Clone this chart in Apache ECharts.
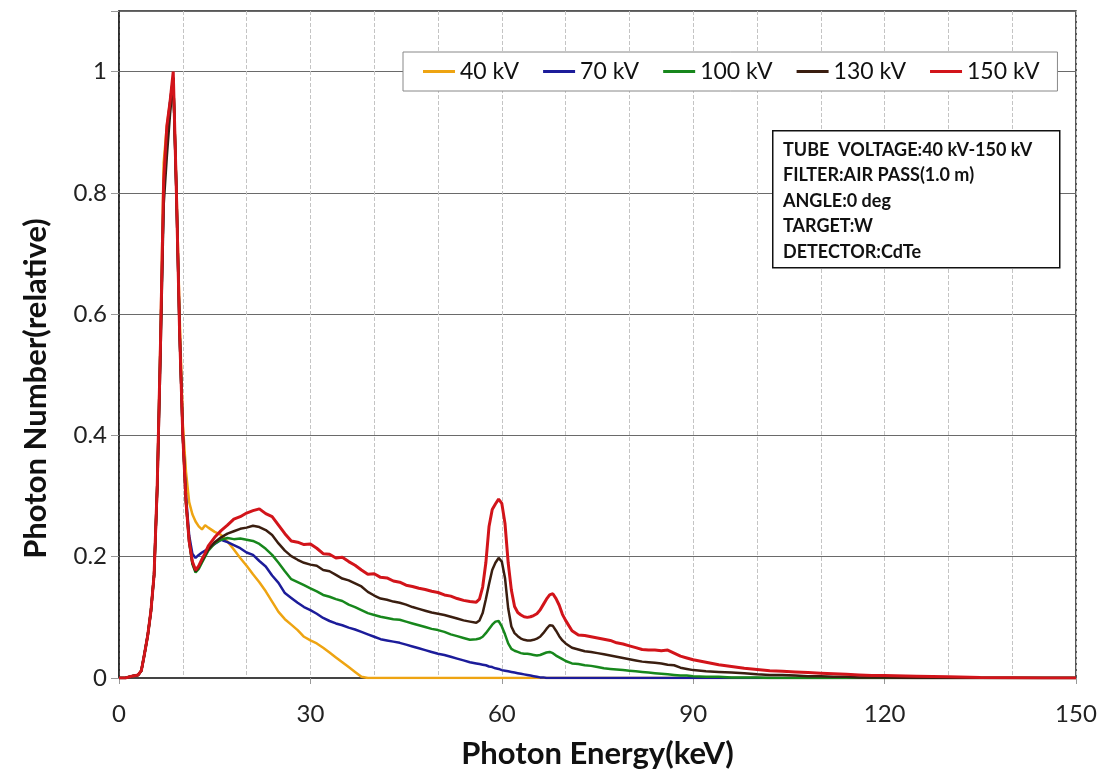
<!DOCTYPE html>
<html>
<head>
<meta charset="utf-8">
<title>Photon spectra</title>
<script src="https://cdn.jsdelivr.net/npm/echarts@6/dist/echarts.min.js"></script>
<style>
  html, body { margin: 0; padding: 0; background: #fff; }
  #chart { width: 1108px; height: 778px; }
</style>
</head>
<body>
<div id="chart"></div>
<script>
// photon energy grid (keV)
const energy = [
  0, 1, 2, 3,
  3.5, 4, 4.5, 5, 5.5, 6, 6.5, 7, 7.5, 8, 8.5, 9, 9.5, 10, 10.5, 11, 11.5, 12, 12.5, 13, 13.5,
  14, 15, 16, 17, 18, 19, 20, 21, 22, 23, 24, 25, 26, 27, 28, 29, 30, 31, 32, 33, 34, 35,
  36, 37, 38, 39, 40, 41, 42, 43, 44, 45, 46, 47, 48, 49, 50, 51, 52, 53, 54, 55, 56,
  56.5, 57, 57.5, 58, 58.5, 59, 59.5, 60, 60.5, 61, 61.5, 62, 62.5, 63, 63.5, 64, 64.5, 65,
  65.5, 66, 66.5, 67, 67.5, 68, 68.5, 69, 69.5, 70,
  71, 72, 73, 74, 75, 76, 77, 78, 79, 80, 81, 82, 83, 84, 85, 86, 87, 88, 89, 90,
  92, 94, 96, 98, 100, 102, 104, 106, 108, 110, 112, 114, 116, 118, 120,
  125, 130, 135, 140, 145, 150
]

const seriesNames = ['40 kV', '70 kV', '100 kV', '130 kV', '150 kV']
const seriesColors = ['#eea412', '#1c1c9a', '#17871c', '#3a1e10', '#d2141a']

const kv40 = [
  0, 0, 0.003, 0.005,
  0.012, 0.04, 0.07, 0.11, 0.17, 0.32, 0.56, 0.85, 0.91, 0.95, 0.99, 0.81, 0.6, 0.42, 0.34, 0.29, 0.27, 0.258, 0.25, 0.245, 0.252,
  0.248, 0.241, 0.236, 0.225, 0.212, 0.198, 0.185, 0.171, 0.158, 0.143, 0.126, 0.109, 0.097, 0.088, 0.079, 0.068, 0.062, 0.057, 0.050, 0.042, 0.034, 0.026,
  0.018, 0.010, 0.002, 0, 0, 0, 0, 0, 0, 0, 0, 0, 0, 0, 0, 0, 0, 0, 0, 0, 0,
  0, 0, 0, 0, 0, 0, 0, 0, 0, 0, 0, 0, 0, 0, 0, 0, 0, 0,
  0, 0, 0, 0, 0, 0, 0, 0, 0, 0,
  0, 0, 0, 0, 0, 0, 0, 0, 0, 0, 0, 0, 0, 0, 0, 0, 0, 0, 0, 0,
  0, 0, 0, 0, 0, 0, 0, 0, 0, 0, 0, 0, 0, 0, 0,
  0, 0, 0, 0, 0, 0
]

const kv70 = [
  0, 0, 0.003, 0.005,
  0.012, 0.04, 0.07, 0.11, 0.17, 0.32, 0.55, 0.8, 0.9, 0.95, 0.99, 0.8, 0.57, 0.4, 0.3, 0.235, 0.205, 0.198, 0.203, 0.207, 0.21,
  0.214, 0.221, 0.228, 0.224, 0.219, 0.214, 0.207, 0.203, 0.193, 0.184, 0.169, 0.157, 0.140, 0.132, 0.124, 0.117, 0.112, 0.106, 0.099, 0.094, 0.090, 0.087,
  0.083, 0.080, 0.076, 0.072, 0.068, 0.064, 0.062, 0.060, 0.058, 0.055, 0.052, 0.049, 0.046, 0.043, 0.040, 0.038, 0.035, 0.032, 0.029, 0.026, 0.024,
  0.023, 0.022, 0.021, 0.019, 0.018, 0.016, 0.015, 0.013, 0.012, 0.011, 0.010, 0.009, 0.008, 0.007, 0.006, 0.005, 0.004, 0.003,
  0.002, 0.001, 0.001, 0, 0, 0, 0, 0, 0, 0,
  0, 0, 0, 0, 0, 0, 0, 0, 0, 0, 0, 0, 0, 0, 0, 0, 0, 0, 0, 0,
  0, 0, 0, 0, 0, 0, 0, 0, 0, 0, 0, 0, 0, 0, 0,
  0, 0, 0, 0, 0, 0
]

const kv100 = [
  0, 0, 0.003, 0.005,
  0.012, 0.04, 0.07, 0.11, 0.17, 0.32, 0.55, 0.8, 0.89, 0.94, 0.99, 0.8, 0.57, 0.4, 0.29, 0.225, 0.188, 0.174, 0.18, 0.19, 0.2,
  0.210, 0.222, 0.228, 0.231, 0.229, 0.230, 0.228, 0.226, 0.221, 0.213, 0.203, 0.190, 0.176, 0.163, 0.158, 0.153, 0.148, 0.143, 0.137, 0.134, 0.130, 0.127,
  0.121, 0.117, 0.112, 0.107, 0.104, 0.101, 0.099, 0.097, 0.096, 0.093, 0.090, 0.087, 0.084, 0.081, 0.079, 0.076, 0.072, 0.069, 0.066, 0.063, 0.064,
  0.065, 0.068, 0.074, 0.081, 0.088, 0.093, 0.094, 0.085, 0.072, 0.057, 0.048, 0.045, 0.043, 0.041, 0.040, 0.040, 0.039, 0.038,
  0.037, 0.038, 0.040, 0.042, 0.043, 0.041, 0.037, 0.034, 0.031, 0.028,
  0.024, 0.023, 0.021, 0.020, 0.018, 0.016, 0.015, 0.014, 0.013, 0.012, 0.011, 0.010, 0.009, 0.008, 0.007, 0.006, 0.005, 0.004, 0.004, 0.003,
  0.002, 0.002, 0.001, 0.001, 0.001, 0, 0, 0, 0, 0, 0, 0, 0, 0, 0,
  0, 0, 0, 0, 0, 0
]

const kv130 = [
  0, 0, 0.003, 0.005,
  0.012, 0.04, 0.07, 0.11, 0.17, 0.31, 0.53, 0.78, 0.86, 0.93, 0.99, 0.8, 0.57, 0.4, 0.29, 0.225, 0.19, 0.176, 0.183, 0.193, 0.203,
  0.212, 0.224, 0.232, 0.238, 0.242, 0.246, 0.248, 0.251, 0.249, 0.244, 0.236, 0.222, 0.210, 0.201, 0.195, 0.190, 0.187, 0.185, 0.178, 0.176, 0.170, 0.164,
  0.161, 0.156, 0.151, 0.142, 0.136, 0.131, 0.129, 0.126, 0.124, 0.121, 0.117, 0.114, 0.111, 0.108, 0.106, 0.104, 0.101, 0.098, 0.095, 0.093, 0.091,
  0.095, 0.107, 0.130, 0.155, 0.178, 0.190, 0.198, 0.192, 0.165, 0.115, 0.085, 0.074, 0.069, 0.065, 0.063, 0.062, 0.062, 0.063,
  0.065, 0.068, 0.074, 0.081, 0.087, 0.086, 0.078, 0.069, 0.062, 0.057,
  0.050, 0.047, 0.044, 0.043, 0.041, 0.039, 0.037, 0.035, 0.033, 0.031, 0.029, 0.027, 0.026, 0.025, 0.024, 0.022, 0.021, 0.017, 0.015, 0.013,
  0.011, 0.010, 0.009, 0.008, 0.006, 0.005, 0.005, 0.004, 0.003, 0.003, 0.002, 0.002, 0.001, 0.001, 0.001,
  0, 0, 0, 0, 0, 0
]

const kv150 = [
  0, 0, 0.003, 0.005,
  0.012, 0.04, 0.07, 0.11, 0.17, 0.32, 0.55, 0.82, 0.91, 0.95, 1.0, 0.8, 0.57, 0.4, 0.29, 0.225, 0.192, 0.178, 0.185, 0.196, 0.206,
  0.218, 0.232, 0.243, 0.252, 0.262, 0.266, 0.272, 0.276, 0.279, 0.271, 0.266, 0.252, 0.238, 0.226, 0.224, 0.220, 0.221, 0.214, 0.205, 0.204, 0.198, 0.199,
  0.192, 0.186, 0.178, 0.171, 0.172, 0.166, 0.165, 0.160, 0.158, 0.153, 0.151, 0.148, 0.146, 0.143, 0.141, 0.137, 0.135, 0.131, 0.128, 0.126, 0.125,
  0.130, 0.150, 0.190, 0.250, 0.278, 0.287, 0.295, 0.288, 0.255, 0.190, 0.145, 0.118, 0.108, 0.104, 0.101, 0.100, 0.101, 0.103,
  0.106, 0.112, 0.121, 0.130, 0.137, 0.139, 0.131, 0.120, 0.105, 0.095,
  0.078, 0.071, 0.070, 0.068, 0.066, 0.064, 0.062, 0.058, 0.056, 0.053, 0.050, 0.047, 0.046, 0.046, 0.045, 0.046, 0.041, 0.036, 0.033, 0.030,
  0.026, 0.022, 0.019, 0.016, 0.014, 0.012, 0.011, 0.010, 0.009, 0.008, 0.007, 0.006, 0.005, 0.004, 0.004,
  0.003, 0.002, 0.001, 0.0005, 0, 0
]

const spectra = [kv40, kv70, kv100, kv130, kv150]

const noteLines = [
  'TUBE  VOLTAGE:40 kV-150 kV',
  'FILTER:AIR PASS(1.0 m)',
  'ANGLE:0 deg',
  'TARGET:W',
  'DETECTOR:CdTe'
]

const FONT = 'Lato, "Open Sans", sans-serif'

const chart = echarts.init(document.getElementById('chart'))

const series = spectra.map((vals, i) => ({
  name: seriesNames[i],
  type: 'line',
  data: energy.map((e, j) => [e, vals[j]]),
  showSymbol: false,
  symbol: 'none',
  smooth: false,
  lineStyle: { color: seriesColors[i], width: i === 4 ? 3 : 2.5 },
  itemStyle: { color: seriesColors[i] },
  z: 2 + i
}))

const option = {
  backgroundColor: '#fff',
  animation: false,
  textStyle: { fontFamily: FONT },
  grid: {
    left: 119, right: 32, top: 11, bottom: 100,
    show: true, borderColor: '#222', borderWidth: 1.5, backgroundColor: 'transparent'
  },
  legend: {
    data: seriesNames,
    left: 403, top: 52,
    padding: [8, 18, 8, 20],
    itemGap: 24,
    itemWidth: 32,
    itemHeight: 3,
    icon: 'rect',
    backgroundColor: '#fff',
    borderColor: '#888',
    borderWidth: 1,
    borderRadius: 0,
    textStyle: { fontSize: 23, color: '#111', fontFamily: FONT }
  },
  xAxis: {
    type: 'value',
    min: 0, max: 150, interval: 30,
    name: 'Photon Energy(keV)',
    nameLocation: 'middle',
    nameGap: 60,
    nameTextStyle: { fontSize: 31, fontWeight: 'bold', color: '#111', fontFamily: FONT },
    axisLine: { show: true, lineStyle: { color: '#444', width: 2 } },
    axisTick: { show: true, length: 6, lineStyle: { color: '#999' } },
    axisLabel: { fontSize: 24, color: '#222', margin: 24, fontFamily: FONT },
    splitLine: { show: true, lineStyle: { type: 'dashed', color: '#c4c4c4', width: 1 } },
    minorTick: { show: false, splitNumber: 3 },
    minorSplitLine: { show: true, lineStyle: { type: 'dashed', color: '#c4c4c4', width: 1 } }
  },
  yAxis: {
    type: 'value',
    min: 0, max: 1.1, interval: 0.2,
    name: 'Photon Number(relative)',
    nameLocation: 'middle',
    nameGap: 68,
    nameTextStyle: { fontSize: 31, fontWeight: 'bold', color: '#111', fontFamily: FONT, padding: [0, 88, 0, 0] },
    axisLine: { show: true, lineStyle: { color: '#222', width: 1.5 } },
    axisTick: { show: true, length: 8, lineStyle: { color: '#999' } },
    axisLabel: {
      fontSize: 24, color: '#222', margin: 12, fontFamily: FONT,
      formatter: v => (v > 1.05 ? '' : String(+v.toFixed(1)))
    },
    splitLine: { show: true, lineStyle: { color: '#6a6a6a', width: 1.2 } }
  },
  // info box, drawn over the grid lines
  graphic: [
    {
      type: 'rect',
      left: 772, top: 130,
      z: 100,
      zlevel: 1,
      shape: { width: 287, height: 137 },
      style: { fill: '#fff', stroke: '#111', lineWidth: 1.5 }
    },
    {
      type: 'text',
      left: 783, top: 137,
      z: 101,
      zlevel: 1,
      style: {
        text: noteLines.join('\n'),
        font: 'bold 18px ' + FONT,
        lineHeight: 25.5,
        fill: '#111'
      }
    }
  ],
  series
}

chart.setOption(option)
window.addEventListener('resize', () => chart.resize())
</script>
</body>
</html>
